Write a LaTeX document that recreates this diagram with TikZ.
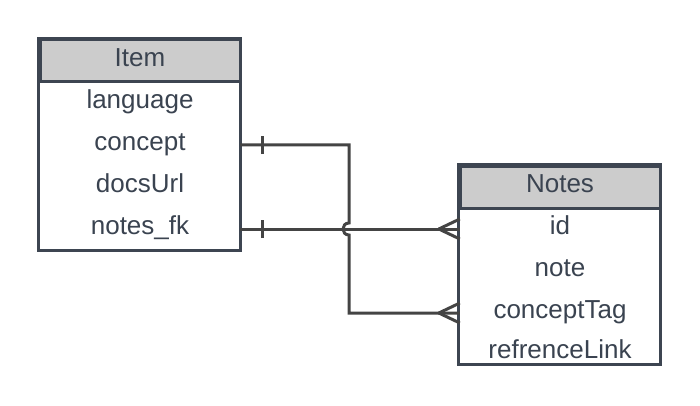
\documentclass[tikz,border=0pt]{standalone}
\usepackage{fontspec}
\setmainfont{Liberation Sans}
\usetikzlibrary{shadows}
\definecolor{bordc}{HTML}{3D4551}
\definecolor{txtc}{HTML}{3A4350}
\definecolor{hdrc}{HTML}{CCCCCC}
\definecolor{linec}{HTML}{444444}
\tikzset{
  x=1pt, y=-1pt,
  hdr/.style={draw=bordc, line width=3pt, fill=hdrc, minimum width=200pt, minimum height=42pt, inner sep=0pt, text=txtc, font=\fontsize{26}{30}\selectfont, text height=18pt, text depth=7pt},
  fld/.style={minimum width=200pt, minimum height=42pt, inner sep=0pt, text=txtc, font=\fontsize{26}{30}\selectfont, text height=18pt, text depth=7pt},
  conn/.style={draw=linec, line width=3pt},
  shad/.style={fill=white, drop shadow={shadow xshift=2pt, shadow yshift=-2pt, opacity=0.18}},
}
\begin{document}
\begin{tikzpicture}
\useasboundingbox (0,0) rectangle (700,406);
% Item table
\fill[shad] (40,40) rectangle (240,250);
\node[fld] (language) at (140,103) {language};
\node[fld] (concept) at (140,145) {concept};
\node[fld] (docsUrl) at (140,187) {docsUrl};
\node[fld] (notesfk) at (140,229) {notes\_fk};
\node[hdr] (item) at (140,61) {Item};
\draw[bordc, line width=3pt] (item.north west) rectangle (notesfk.south east);
% Notes table
\fill[shad] (460,166) rectangle (660,364);
\coordinate (nbot) at (660,364);
\node[fld] (id) at (560,229) {id};
\node[fld] (note) at (560,271) {note};
\node[fld] (conceptTag) at (560,313) {conceptTag};
\node[fld, minimum height=30pt] (refrenceLink) at (560,353) {refrenceLink};
\node[hdr] (notes) at (560,187) {Notes};
\draw[bordc, line width=3pt] (notes.north west) rectangle (nbot);
% connector concept -> conceptTag
\coordinate (c1) at (349,145);
\coordinate (h1) at (349,223);
\coordinate (h2) at (349,235);
\coordinate (c2) at (349,313);
\draw[conn] (concept.east) -- (c1) -- (h1) .. controls (341,223) and (341,235) .. (h2) -- (c2) -- (conceptTag.west);
\draw[conn] ([xshift=22pt,yshift=-9pt]concept.east) -- ([xshift=22pt,yshift=9pt]concept.east);
\draw[conn] ([xshift=-21pt]conceptTag.west) -- ([yshift=-10pt]conceptTag.west);
\draw[conn] ([xshift=-21pt]conceptTag.west) -- ([yshift=10pt]conceptTag.west);
% connector notes_fk -> id
\draw[conn] (notesfk.east) -- (id.west);
\draw[conn] ([xshift=22pt,yshift=-9pt]notesfk.east) -- ([xshift=22pt,yshift=9pt]notesfk.east);
\draw[conn] ([xshift=-21pt]id.west) -- ([yshift=-10pt]id.west);
\draw[conn] ([xshift=-21pt]id.west) -- ([yshift=10pt]id.west);
\end{tikzpicture}
\end{document}
